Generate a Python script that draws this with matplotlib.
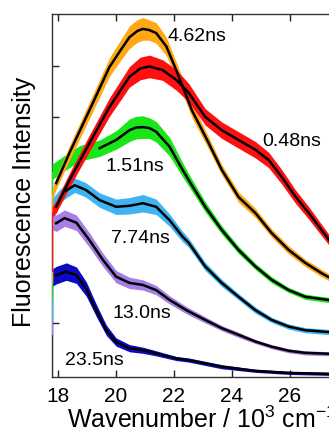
import numpy as np
import matplotlib
matplotlib.use("Agg")
import matplotlib.pyplot as plt

plt.rcParams['font.family'] = ['Liberation Sans', 'DejaVu Sans']
plt.rcParams['mathtext.fontset'] = 'custom'
plt.rcParams['mathtext.rm'] = 'Liberation Sans'
plt.rcParams['mathtext.default'] = 'regular'

# ---------------- data ----------------
# wavenumber (10^3 cm^-1), intensity (offset, arb. units), noise half-width
orange_x = [17.81, 17.95, 18.41, 19.10, 19.79, 20.20, 20.48, 20.75, 20.94, 21.15, 21.40, 21.75,
            22.09, 22.63, 23.21, 23.66, 24.24, 24.82, 25.38, 25.97, 26.54, 27.10, 27.45]
orange_y = [3.49, 3.72, 4.31, 5.14, 5.98, 6.33, 6.56, 6.68, 6.72, 6.70, 6.64, 6.38,
            5.92, 5.14, 4.50, 3.98, 3.45, 3.14, 2.75, 2.42, 2.17, 1.97, 1.86]
orange_w = [.10, .12, .14, .16, .18, .20, .22, .22, .22, .20, .20, .18,
            .16, .14, .12, .10, .10, .09, .08, .08, .07, .07, .07]

red_x = [17.81, 17.95, 18.41, 19.10, 19.79, 20.48, 20.85, 21.17, 21.62, 22.09, 22.52, 23.09,
         23.66, 24.24, 24.82, 25.28, 25.72, 26.20, 26.66, 27.10, 27.45]
red_y = [3.16, 3.26, 3.78, 4.50, 5.20, 5.79, 5.95, 5.99, 5.92, 5.73, 5.48, 5.01,
         4.75, 4.56, 4.37, 4.17, 3.85, 3.46, 3.14, 2.81, 2.55]
red_w = [.10, .12, .14, .16, .18, .20, .22, .22, .20, .20, .18, .16,
         .16, .16, .16, .15, .14, .13, .12, .11, .10]

green_x = [17.81, 18.24, 18.76, 19.45, 20.02, 20.48, 20.70, 20.94, 21.17, 21.40, 21.86, 22.31,
           22.52, 23.09, 23.66, 24.24, 24.82, 25.38, 25.97, 26.54, 27.45]
green_y = [3.94, 4.11, 4.30, 4.40, 4.56, 4.75, 4.80, 4.81, 4.79, 4.72, 4.43, 3.98,
           3.78, 3.26, 2.81, 2.42, 2.10, 1.84, 1.64, 1.51, 1.44]
green_w = [.15, .15, .15, .16, .18, .22, .22, .22, .20, .20, .18, .14,
           .12, .10, .08, .07, .06, .06, .05, .05, .05]

lblue_x = [17.81, 18.05, 18.28, 18.59, 18.97, 19.45, 20.02, 20.48, 20.94, 21.40, 21.86, 22.31,
           22.52, 23.09, 23.66, 24.24, 24.82, 25.38, 25.97, 26.54, 27.45]
lblue_y = [3.30, 3.45, 3.57, 3.68, 3.59, 3.39, 3.26, 3.28, 3.33, 3.26, 3.00, 2.68,
           2.56, 2.10, 1.78, 1.51, 1.25, 1.06, 0.93, 0.86, 0.82]
lblue_w = [.12, .13, .14, .14, .14, .14, .15, .16, .17, .15, .12, .10,
           .09, .08, .07, .06, .06, .05, .05, .05, .05]

purple_x = [17.81, 17.95, 18.24, 18.65, 19.10, 19.56, 20.02, 20.48, 20.94, 21.40, 21.86, 22.44,
            23.09, 23.66, 24.24, 24.82, 25.38, 25.97, 26.54, 27.45]
purple_y = [2.98, 2.94, 3.04, 2.95, 2.61, 2.23, 1.90, 1.78, 1.74, 1.64, 1.45, 1.25,
            1.06, 0.90, 0.77, 0.64, 0.54, 0.46, 0.42, 0.40]
purple_w = [.16, .16, .16, .15, .14, .13, .12, .11, .10, .09, .08, .07,
            .06, .05, .05, .04, .04, .04, .04, .04]

dblue_x = [17.81, 17.95, 18.30, 18.65, 18.99, 19.33, 19.68, 20.02, 20.48, 20.94, 21.40, 22.09,
           22.52, 23.66, 24.82, 25.97, 27.45]
dblue_y = [1.88, 1.93, 2.00, 1.93, 1.66, 1.25, 0.86, 0.63, 0.51, 0.47, 0.41, 0.31,
           0.28, 0.15, 0.07, 0.03, 0.01]
dblue_w = [.17, .17, .17, .16, .14, .12, .10, .08, .07, .06, .05, .04,
           .04, .04, .03, .03, .03]

# lifetimes (labels), first wavenumber of the fitted curve, lower end of the edge segment
labels = ["23.5ns", "13.0ns", "7.74ns", "1.51ns", "4.62ns", "0.48ns"]
fit_start = [17.95, 17.95, 18.28, 19.45, 17.95, 17.95]
edge_floor = [-0.10, 0.77, 1.06, 1.45, 1.78, 1.99]
label_x = [18.24, 19.91, 19.85, 19.66, 21.79, 25.07]
label_y = [0.28, 1.19, 2.65, 4.04, 6.58, 4.53]

xticks = [18, 20, 22, 24, 26]
xtick_labels = ["18", "20", "22", "24", "26"]

series = [
    (dblue_x, dblue_y, dblue_w, "#0a0ac8"),
    (purple_x, purple_y, purple_w, "#a77ee6"),
    (lblue_x, lblue_y, lblue_w, "#3fb4f2"),
    (green_x, green_y, green_w, "#19e619"),
    (orange_x, orange_y, orange_w, "#ffa814"),
    (red_x, red_y, red_w, "#ff1010"),
]

# ---------------- figure ----------------
W, H = 329, 430
fig = plt.figure(figsize=(W / 100, H / 100), dpi=100)
ax_left, ax_bottom = 51.5 / W, 1 - 377 / H
ax_h = (377 - 14) / H
xmin, xmax = 17.79, 28.4
ax_w = (xmax - xmin) * 29 / W
ax = fig.add_axes([ax_left, ax_bottom, ax_w, ax_h])
ax.set_xlim(xmin, xmax)
ax.set_ylim(-0.05, 7.01)

for i, (x, y, w, c) in enumerate(series):
    x = np.asarray(x); y = np.asarray(y); w = np.asarray(w)
    z = 2 + i
    ax.fill_between(x, y - w, y + w, color=c, lw=0, zorder=z)
    ax.plot([x[0], x[0]], [edge_floor[i], y[0]], color=c, lw=1.6,
            solid_capstyle='butt', zorder=z)
for i, (x, y, w, c) in enumerate(series):
    x = np.asarray(x); y = np.asarray(y)
    m = x >= fit_start[i] - 1e-9
    ax.plot(x[m], y[m], color='black', lw=1.8, zorder=20,
            solid_joinstyle='round')

for lx, ly, t in zip(label_x, label_y, labels):
    ax.text(lx, ly, t, fontsize=14, ha='left', va='center', zorder=30)

ax.set_xticks(xticks)
ax.set_xticklabels(xtick_labels, fontsize=15)
ax.set_yticks([1, 2, 3, 4, 5, 6])
ax.set_yticklabels([])
ax.tick_params(axis='x', direction='in', length=5, width=1.0, top=True,
               bottom=True, pad=7, color='#222222')
ax.tick_params(axis='y', direction='in', length=5, width=1.0, left=True,
               right=False, color='#222222')
for s in ['left', 'bottom', 'top']:
    ax.spines[s].set_linewidth(1.0)
    ax.spines[s].set_color('#333333')
ax.spines['right'].set_visible(False)

fig.text(67 / W, 1 - 428 / H, r'Wavenumber / 10$^{3}$ cm$^{-1}$', fontsize=18,
         ha='left', va='baseline')
fig.text(24.5 / W, 1 - 202 / H, 'Fluorescence Intensity', fontsize=18,
         rotation=90, ha='center', va='center')

fig.savefig("out.png", dpi=100)
